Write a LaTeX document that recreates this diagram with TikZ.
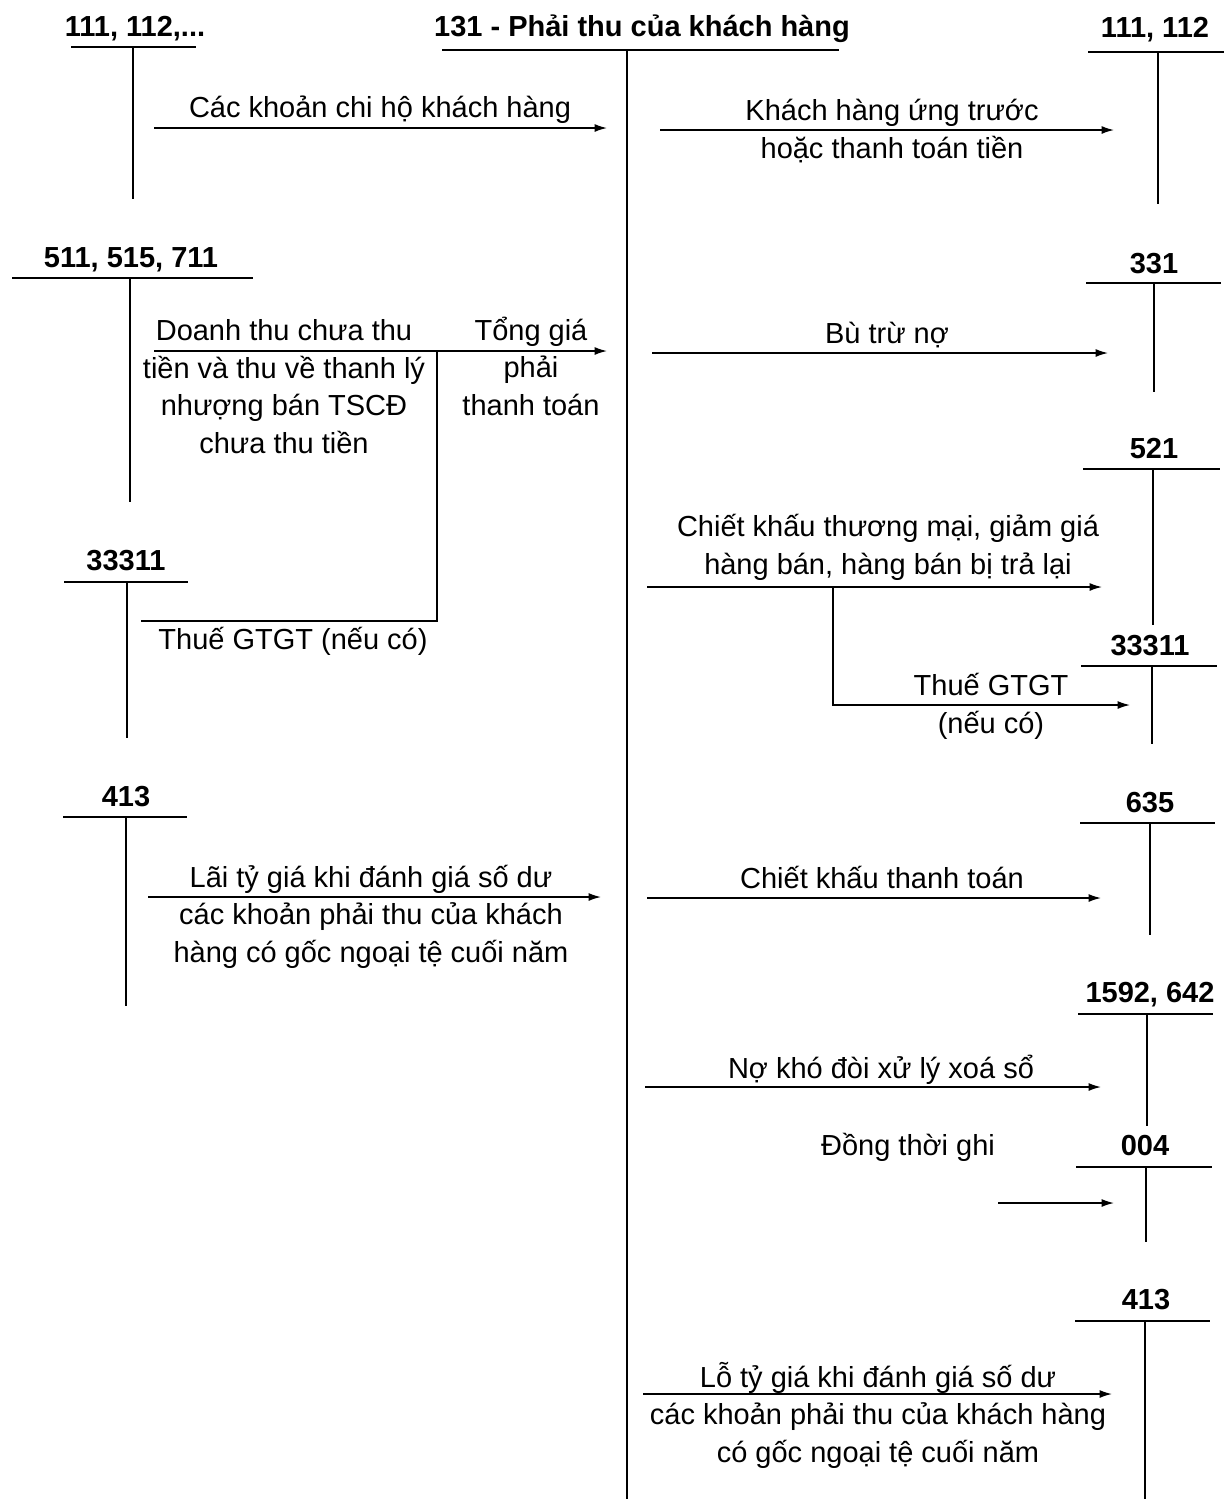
\documentclass[tikz,border=0pt]{standalone}
\usepackage{fontspec}
\setmainfont{Liberation Sans}
\usetikzlibrary{arrows.meta}

\begin{document}
\begin{tikzpicture}[
  x=0.02cm, y=-0.02cm,
  acct/.style={font=\fontsize{16.5}{21.3}\selectfont\bfseries,inner sep=0pt,anchor=base},
  note/.style={font=\fontsize{16.5}{21.3}\selectfont,inner sep=0pt,anchor=base,align=center},
  tacc/.style={line width=1.1pt},
  flow/.style={line width=0.8pt,-{Latex[length=7pt,width=4.5pt]}},
  link/.style={line width=0.8pt}
]
  \useasboundingbox (0,0) rectangle (1224,1499);
  % tai khoan 131
  \node[acct] (t131) at (642,36) {131 - Phải thu của khách hàng};
  \draw[tacc] (442,50) -- (839,50);
  \draw[line width=1.7pt] (627,50) -- (627,1499);
  % ben no
  \node[acct] (t111a) at (135,36) {111, 112,...};
  \draw[tacc] (71,47) -- (196,47);
  \draw[link] (133,47) -- (133,199);
  \node[acct] (t511) at (131,267) {511, 515, 711};
  \draw[tacc] (12,278) -- (253,278);
  \draw[link] (130,278) -- (130,502);
  \node[acct] (t3331a) at (126,570) {33311};
  \draw[tacc] (64,582) -- (188,582);
  \draw[link] (127,582) -- (127,738);
  \node[acct] (t413a) at (126,806) {413};
  \draw[tacc] (63,817) -- (187,817);
  \draw[link] (126,817) -- (126,1006);
  % ben co
  \node[acct] (t111b) at (1155,37) {111, 112};
  \draw[tacc] (1088,52) -- (1224,52);
  \draw[link] (1158,52) -- (1158,204);
  \node[acct] (t331) at (1154,273) {331};
  \draw[tacc] (1086,283) -- (1221,283);
  \draw[link] (1154,283) -- (1154,392);
  \node[acct] (t521) at (1154,458) {521};
  \draw[tacc] (1083,469) -- (1220,469);
  \draw[link] (1153,469) -- (1153,625);
  \node[acct] (t3331b) at (1150,655) {33311};
  \draw[tacc] (1081,666) -- (1217,666);
  \draw[link] (1152,666) -- (1152,744);
  \node[acct] (t635) at (1150,812) {635};
  \draw[tacc] (1080,823) -- (1215,823);
  \draw[link] (1150,823) -- (1150,935);
  \node[acct] (t1592) at (1150,1002) {1592, 642};
  \draw[tacc] (1078,1014) -- (1213,1014);
  \draw[link] (1147,1014) -- (1147,1126);
  \node[acct] (t004) at (1145,1155) {004};
  \draw[tacc] (1076,1167) -- (1212,1167);
  \draw[link] (1146,1167) -- (1146,1242);
  \node[acct] (t413b) at (1146,1309) {413};
  \draw[tacc] (1075,1321) -- (1210,1321);
  \draw[link] (1145,1321) -- (1145,1499);
  % cac but toan
  \coordinate (chiS) at (154,128);   \coordinate (chiE) at (607,128);
  \coordinate (ungS) at (660,130);   \coordinate (ungE) at (1114,130);
  \coordinate (dtS) at (154,351);    \coordinate (dtE) at (607,351);
  \coordinate (dtJ) at (437,351);    \coordinate (dtK) at (437,621);
  \coordinate (vatL) at (141,621);
  \coordinate (buS) at (652,353);    \coordinate (buE) at (1108,353);
  \coordinate (ckS) at (647,587);    \coordinate (ckE) at (1102,587);
  \coordinate (ckJ) at (833,587);    \coordinate (ckK) at (833,705);
  \coordinate (vatE) at (1130,705);
  \coordinate (laiS) at (148,897);   \coordinate (laiE) at (601,897);
  \coordinate (cktS) at (647,898);   \coordinate (cktE) at (1101,898);
  \coordinate (noS) at (645,1087);   \coordinate (noE) at (1101,1087);
  \coordinate (ghiS) at (998,1203);  \coordinate (ghiE) at (1114,1203);
  \coordinate (loS) at (643,1394);   \coordinate (loE) at (1112,1394);
  \draw[flow] (chiS) -- (chiE);
  \draw[flow] (ungS) -- (ungE);
  \draw[flow] (dtS) -- (dtE);
  \draw[link] (dtJ) -- (dtK) -- (vatL);
  \draw[flow] (buS) -- (buE);
  \draw[flow] (ckS) -- (ckE);
  \draw[flow] (ckJ) -- (ckK) -- (vatE);
  \draw[flow] (laiS) -- (laiE);
  \draw[flow] (cktS) -- (cktE);
  \draw[flow] (noS) -- (noE);
  \draw[flow] (ghiS) -- (ghiE);
  \draw[flow] (loS) -- (loE);
  % dien giai (base = dong cuoi)
  \node[note] (chi) at (380,117) {Các khoản chi hộ khách hàng};
  \node[note] (ung) at (892,158) {Khách hàng ứng trước\\hoặc thanh toán tiền};
  \node[note] (dt) at (284,453) {Doanh thu chưa thu\\tiền và thu về thanh lý\\nhượng bán TSCĐ\\chưa thu tiền};
  \node[note] (tong) at (531,415) {Tổng giá\\phải\\thanh toán};
  \node[note] (vat) at (293,649) {Thuế GTGT (nếu có)};
  \node[note] (bu) at (887,343) {Bù trừ nợ};
  \node[note] (ck) at (888,574) {Chiết khấu thương mại, giảm giá\\hàng bán, hàng bán bị trả lại};
  \node[note] (vat2) at (991,733) {Thuế GTGT\\(nếu có)};
  \node[note] (lai) at (371,962) {Lãi tỷ giá khi đánh giá số dư\\các khoản phải thu của khách\\hàng có gốc ngoại tệ cuối năm};
  \node[note] (ckt) at (882,888) {Chiết khấu thanh toán};
  \node[note] (no) at (881,1078) {Nợ khó đòi xử lý xoá sổ};
  \node[note] (ghi) at (908,1155) {Đồng thời ghi};
  \node[note] (lo) at (878,1462) {Lỗ tỷ giá khi đánh giá số dư\\các khoản phải thu của khách hàng\\có gốc ngoại tệ cuối năm};
\end{tikzpicture}
\end{document}
